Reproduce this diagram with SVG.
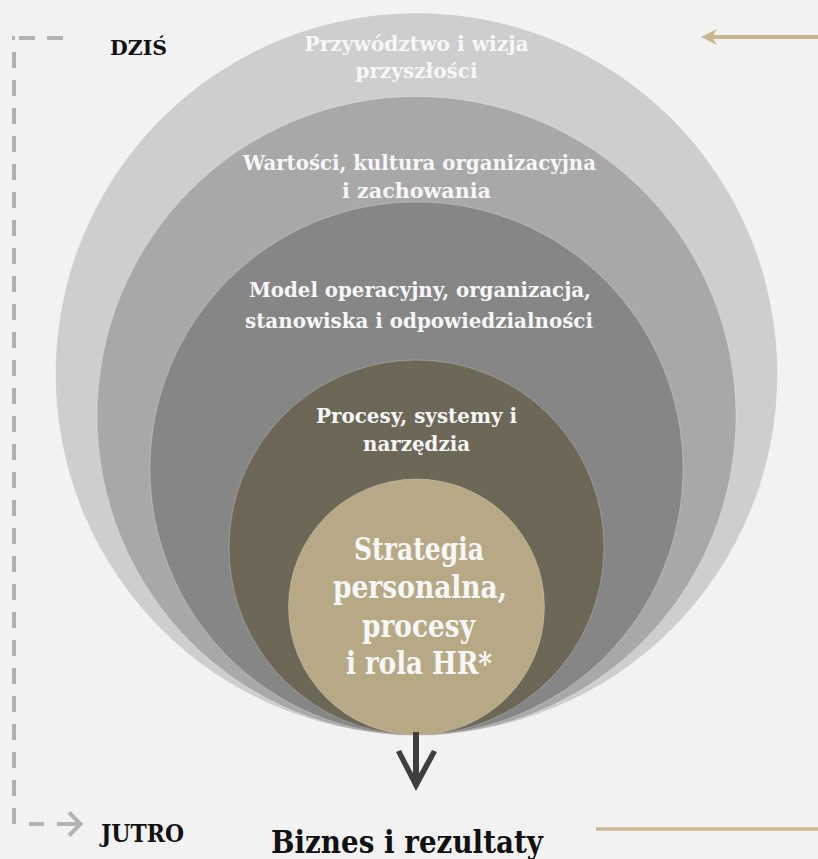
<svg xmlns="http://www.w3.org/2000/svg" width="818" height="859" viewBox="0 0 818 859">
<style>
.lbl{font-family:"DejaVu Serif","Liberation Serif",serif;font-weight:bold;fill:#f7f7f7;text-anchor:middle}
.dark{font-family:"DejaVu Serif","Liberation Serif",serif;font-weight:bold;fill:#111111}
.ring{stroke:#ffffff;stroke-opacity:0.25;stroke-width:1}
.dash{stroke:#b3b3b5;stroke-width:4;fill:none}
</style>
<rect x="0" y="0" width="818" height="859" fill="#f2f2f2"/>
<g id="ring-leadership">
<circle class="ring" cx="416.5" cy="374" r="361" fill="#cecece"/>
<text class="lbl" font-size="20" x="416.5" y="51" textLength="224" lengthAdjust="spacingAndGlyphs">Przywództwo i wizja</text>
<text class="lbl" font-size="20" x="416.5" y="78" textLength="122" lengthAdjust="spacingAndGlyphs">przyszłości</text>
</g>
<g id="ring-values">
<circle class="ring" cx="416.5" cy="416" r="319.5" fill="#a8a8a8"/>
<text class="lbl" font-size="20" x="419.5" y="170" textLength="353" lengthAdjust="spacingAndGlyphs">Wartości, kultura organizacyjna</text>
<text class="lbl" font-size="20" x="416.5" y="198" textLength="149" lengthAdjust="spacingAndGlyphs">i zachowania</text>
</g>
<g id="ring-model">
<circle class="ring" cx="416.5" cy="468.5" r="266.5" fill="#868686"/>
<text class="lbl" font-size="20" x="420" y="297" textLength="342" lengthAdjust="spacingAndGlyphs">Model operacyjny, organizacja,</text>
<text class="lbl" font-size="20" x="419" y="328" textLength="348" lengthAdjust="spacingAndGlyphs">stanowiska i odpowiedzialności</text>
</g>
<g id="ring-processes">
<circle class="ring" cx="416.5" cy="547.5" r="187.5" fill="#6d6758"/>
<text class="lbl" font-size="20" x="416.5" y="423" textLength="201" lengthAdjust="spacingAndGlyphs">Procesy, systemy i</text>
<text class="lbl" font-size="20" x="416.5" y="451" textLength="107" lengthAdjust="spacingAndGlyphs">narzędzia</text>
</g>
<g id="ring-strategy">
<circle class="ring" cx="416.5" cy="607" r="128" fill="#b7a985"/>
<text class="lbl" font-size="32" x="419" y="560" textLength="130" lengthAdjust="spacingAndGlyphs">Strategia</text>
<text class="lbl" font-size="32" x="420" y="598" textLength="174" lengthAdjust="spacingAndGlyphs">personalna,</text>
<text class="lbl" font-size="32" x="418.5" y="637" textLength="113" lengthAdjust="spacingAndGlyphs">procesy</text>
<text class="lbl" font-size="32" x="419" y="674" textLength="146" lengthAdjust="spacingAndGlyphs">i rola HR*</text>
</g>
<g id="label-today">
<text class="dark" font-size="21" x="110" y="55" textLength="57" lengthAdjust="spacingAndGlyphs">DZIŚ</text>
</g>
<g id="label-tomorrow">
<text class="dark" font-size="24" x="101" y="842" textLength="83" lengthAdjust="spacingAndGlyphs">JUTRO</text>
</g>
<g id="label-business">
<text class="dark" font-size="31" x="271" y="853" textLength="272" lengthAdjust="spacingAndGlyphs">Biznes i rezultaty</text>
</g>
<g id="connectors">
<line class="dash" x1="12" y1="38" x2="15" y2="38" stroke-width="2"/>
<line class="dash" x1="19" y1="38" x2="35" y2="38"/>
<line class="dash" x1="47" y1="38" x2="63" y2="38"/>
<line class="dash" x1="14" y1="52" x2="14" y2="825" stroke-dasharray="16 12"/>
<line class="dash" x1="29" y1="824" x2="44" y2="824"/>
<line class="dash" x1="57" y1="824" x2="79" y2="824"/>
<polyline class="dash" points="69,812.5 80.5,824 69,835.5"/>
<line x1="710" y1="37" x2="818" y2="37" stroke="#c9b68f" stroke-width="4"/>
<polygon points="701,37 717,29 712,37 717,45" fill="#c9b68f"/>
<line x1="596" y1="829" x2="818" y2="829" stroke="#ccb994" stroke-width="3.5"/>
<rect x="413" y="732" width="6" height="52" fill="#3f3f3f"/>
<polygon points="396,752 416,791 437,752 432,750 416,779 401,750" fill="#3f3f3f"/>
</g>
</svg>
